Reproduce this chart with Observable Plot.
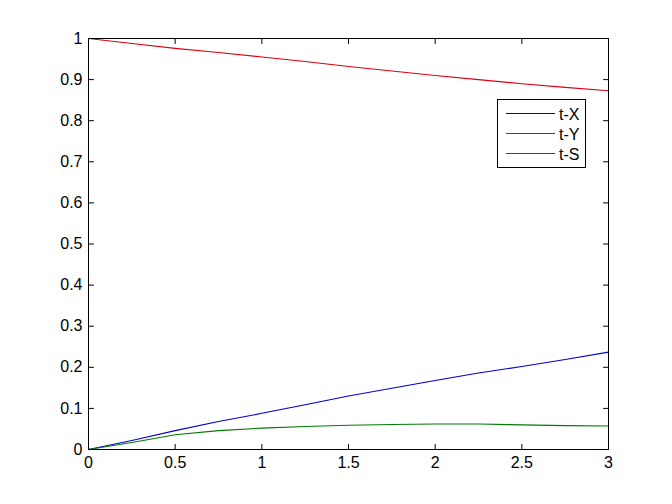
<!DOCTYPE html>
<html><head><meta charset="utf-8">
<script src="https://cdn.jsdelivr.net/npm/d3@7"></script>
<script src="https://cdn.jsdelivr.net/npm/@observablehq/plot@0.6"></script>
<style>
body{margin:0;background:#fff;}
#wrap{position:relative;width:672px;height:504px;font-family:"Liberation Sans",Arial,Helvetica,sans-serif;color:#000;}
#legend{position:absolute;left:497px;top:99px;}
</style></head><body><div id="wrap"></div>
<script>
const t = [0, 0.25, 0.5, 0.75, 1, 1.25, 1.5, 1.75, 2, 2.25, 2.5, 2.75, 3];
const xVals = [0, 0.022, 0.046, 0.068, 0.088, 0.109, 0.130, 0.149, 0.168, 0.186, 0.202, 0.219, 0.237];
const yVals = [0, 0.017, 0.036, 0.046, 0.052, 0.056, 0.059, 0.061, 0.062, 0.062, 0.060, 0.058, 0.057];
const sVals = [1, 0.988, 0.976, 0.966, 0.955, 0.944, 0.932, 0.921, 0.910, 0.900, 0.890, 0.881, 0.873];
const seriesNames = ["t-X", "t-Y", "t-S"];
const seriesColors = ["#0000d0", "#007a00", "#dd0010"];
const xTicks = [0, 0.5, 1, 1.5, 2, 2.5, 3];
const yTicks = [0, 0.1, 0.2, 0.3, 0.4, 0.5, 0.6, 0.7, 0.8, 0.9, 1];

const seriesVals = [xVals, yVals, sVals];
const rows = [];
seriesNames.forEach((name, k) => {
  t.forEach((tt, i) => rows.push({t: tt, v: seriesVals[k][i], series: name}));
});

const tickShape = {draw(context, l) { context.moveTo(0, 0); context.lineTo(0, -l); }};
const tickOpts = {length: 5, anchor: "start", shape: tickShape, stroke: "#000", strokeWidth: 1};

const chart = Plot.plot({
  width: 672,
  height: 504,
  marginLeft: 88,
  marginRight: 64,
  marginTop: 38,
  marginBottom: 55,
  style: {fontFamily: '"Liberation Sans", Arial, Helvetica, sans-serif', fontSize: "16px", color: "#000", background: "#fff"},
  x: {domain: [0, 3], label: null},
  y: {domain: [0, 1], label: null},
  color: {domain: seriesNames, range: seriesColors},
  marks: [
    Plot.line(rows, {x: "t", y: "v", z: "series", stroke: "series", strokeWidth: 1.1}),
    Plot.frame({stroke: "#000", strokeWidth: 1, shapeRendering: "crispEdges"}),
    Plot.vector(xTicks, {...tickOpts, x: d => d, y: d => 0, rotate: 0}),
    Plot.vector(xTicks, {...tickOpts, x: d => d, y: d => 1, rotate: 180}),
    Plot.vector(yTicks, {...tickOpts, y: d => d, x: d => 0, rotate: 90}),
    Plot.vector(yTicks, {...tickOpts, y: d => d, x: d => 3, rotate: -90}),
    Plot.axisX(xTicks, {tickSize: 0, tickPadding: 7, tickFormat: d => String(d), fontSize: 16, label: null}),
    Plot.axisY(yTicks, {tickSize: 0, tickPadding: 6, tickFormat: d => String(d), fontSize: 16, label: null})
  ]
});
const wrap = document.getElementById("wrap");
wrap.appendChild(chart);

const ns = "http://www.w3.org/2000/svg";
const lg = document.createElementNS(ns, "svg");
lg.setAttribute("id", "legend");
lg.setAttribute("width", 90);
lg.setAttribute("height", 70);
const box = document.createElementNS(ns, "rect");
box.setAttribute("x", 0.5); box.setAttribute("y", 0.5);
box.setAttribute("width", 88); box.setAttribute("height", 68);
box.setAttribute("fill", "#fff"); box.setAttribute("stroke", "#000");
lg.appendChild(box);
seriesNames.forEach((name, k) => {
  const cy = 14.5 + k * 20;
  const ln = document.createElementNS(ns, "line");
  ln.setAttribute("x1", 9); ln.setAttribute("x2", 58);
  ln.setAttribute("y1", cy); ln.setAttribute("y2", cy);
  ln.setAttribute("stroke", seriesColors[k]);
  ln.setAttribute("stroke-width", 1.2);
  lg.appendChild(ln);
  const tx = document.createElementNS(ns, "text");
  tx.setAttribute("x", 62); tx.setAttribute("y", cy + 6);
  tx.setAttribute("font-size", 16);
  tx.setAttribute("font-family", '"Liberation Sans", Arial, sans-serif');
  tx.setAttribute("fill", "#000");
  tx.textContent = name;
  lg.appendChild(tx);
});
wrap.appendChild(lg);
</script>
</body></html>
